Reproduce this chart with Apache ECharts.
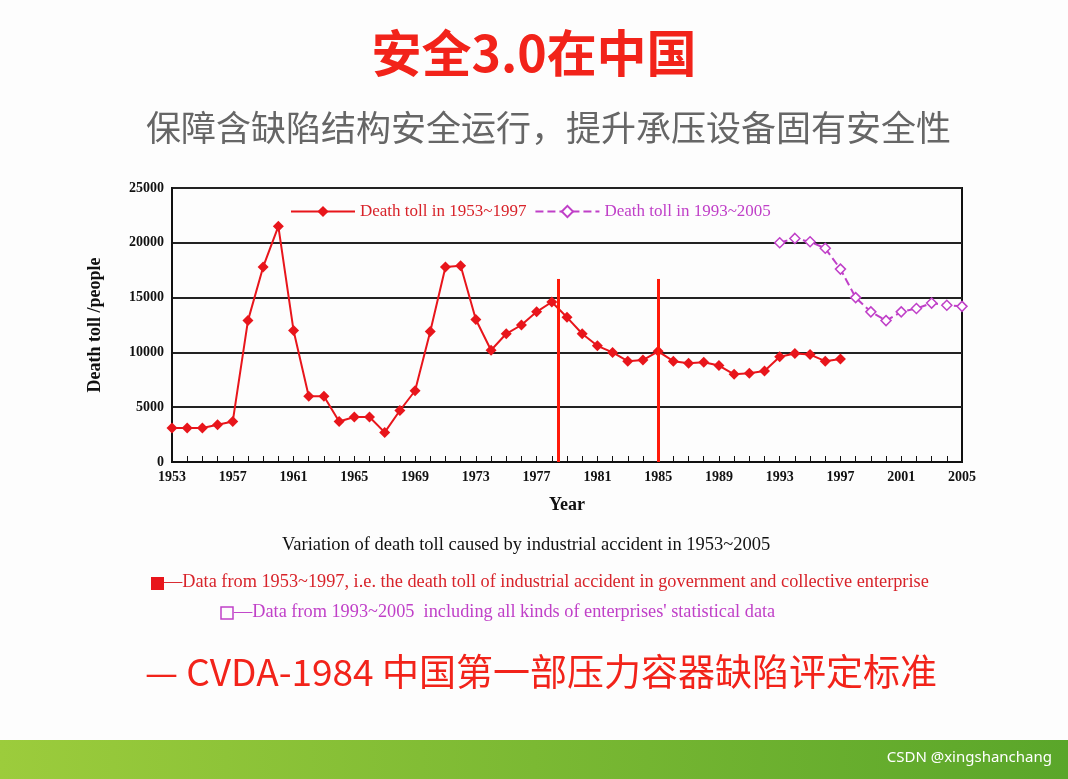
<!DOCTYPE html>
<html><head><meta charset="utf-8">
<script src="https://cdn.jsdelivr.net/npm/echarts@6/dist/echarts.min.js"></script>
<style>html,body{margin:0;padding:0;background:#fff}#c{width:1068px;height:779px}</style>
</head><body><div id="c"></div>
<script>
// 1953~1997 data
const years1 = [];
for (let y = 1953; y <= 1997; y++) years1.push(y);
const toll1 = [3100, 3100, 3100, 3400, 3700, 12900, 17800, 21500, 12000, 6000,
  6000, 3700, 4100, 4100, 2700, 4700, 6500, 11900, 17800, 17900,
  13000, 10200, 11700, 12500, 13700, 14600, 13200, 11700, 10600, 10000,
  9200, 9300, 10100, 9200, 9000, 9100, 8800, 8000, 8100, 8300,
  9600, 9900, 9800, 9200, 9400];
// 1993~2005 data
const years2 = [];
for (let y = 1993; y <= 2005; y++) years2.push(y);
const toll2 = [20000, 20400, 20100, 19500, 17600, 15000, 13700, 12900, 13700, 14000, 14500, 14300, 14200];
const markYears = [1978.4, 1985];

const chart = echarts.init(document.getElementById('c'));
const serif = 'Liberation Serif';

chart.setOption({
  backgroundColor: '#fdfdfd',
  animation: false,
  graphic: [
    { type: 'text', left: 'center', top: 28, style: { text: '安全3.0在中国', font: 'bold 50px "Noto Sans CJK SC"', fill: '#f2231a' } },
    { type: 'text', left: 146, top: 110, style: { text: '保障含缺陷结构安全运行，提升承压设备固有安全性', font: '35px "Noto Sans CJK SC"', fill: '#666' } },
    { type: 'text', left: 282, top: 536, style: { text: 'Variation of death toll caused by industrial accident in 1953~2005', font: '18.5px "Liberation Serif"', fill: '#111' } },
    { type: 'rect', shape: { x: 151, y: 577, width: 13, height: 13 }, style: { fill: '#e8151b' } },
    { type: 'text', left: 164, top: 573, style: { text: '—Data from 1953~1997, i.e. the death toll of industrial accident in government and collective enterprise', font: '18.3px "Liberation Serif"', fill: '#d8232a' } },
    { type: 'rect', shape: { x: 221, y: 607, width: 12, height: 12 }, style: { fill: 'none', stroke: '#c040c8', lineWidth: 1.5 } },
    { type: 'text', left: 234, top: 603, style: { text: '—Data from 1993~2005  including all kinds of enterprises\' statistical data', font: '18.3px "Liberation Serif"', fill: '#c040c8' } },
    { type: 'text', left: 145, top: 653, style: { text: '— CVDA-1984 中国第一部压力容器缺陷评定标准', font: '37px "Noto Sans CJK SC"', fill: '#f2231a' } },
    { type: 'rect', shape: { x: 0, y: 740, width: 1068, height: 39 }, style: { fill: new echarts.graphic.LinearGradient(0, 0, 1, 0, [{ offset: 0, color: '#9ccc3c' }, { offset: 1, color: '#5aa62a' }]) } },
    { type: 'text', right: 16, top: 750, style: { text: 'CSDN @xingshanchang', font: '15px "Noto Sans"', fill: '#fff' } }
  ],
  legend: {
    top: 198, left: 285, itemGap: 8, itemWidth: 64,
    textStyle: { fontFamily: serif, fontSize: 17 },
    data: [
      { name: 'Death toll in 1953~1997', textStyle: { color: '#d8232a' } },
      { name: 'Death toll in 1993~2005', textStyle: { color: '#c040c8' } }
    ]
  },
  grid: { left: 172, right: 106, top: 188, bottom: 317, show: true, borderColor: '#111', borderWidth: 2 },
  xAxis: {
    type: 'value', min: 1953, max: 2005, interval: 4,
    name: 'Year', nameLocation: 'middle', nameGap: 34,
    nameTextStyle: { fontFamily: serif, fontSize: 18, fontWeight: 'bold', color: '#111' },
    axisLine: { lineStyle: { color: '#111', width: 2 } },
    axisTick: { inside: true, length: 6, lineStyle: { color: '#111' } },
    minorTick: { show: true, splitNumber: 4, length: 6, lineStyle: { color: '#111' } },
    axisLabel: { fontFamily: serif, fontSize: 14, fontWeight: 'bold', color: '#111', formatter: v => String(v) },
    splitLine: { show: false }
  },
  yAxis: {
    type: 'value', min: 0, max: 25000, interval: 5000,
    name: 'Death toll /people', nameLocation: 'middle', nameGap: 68, nameRotate: 90,
    nameTextStyle: { fontFamily: serif, fontSize: 18, fontWeight: 'bold', color: '#111' },
    axisLine: { show: true, lineStyle: { color: '#111', width: 2 } },
    axisTick: { show: false },
    axisLabel: { fontFamily: serif, fontSize: 14, fontWeight: 'bold', color: '#111', formatter: v => String(v) },
    splitLine: { lineStyle: { color: '#222', width: 2 } }
  },
  series: [
    {
      name: 'Death toll in 1953~1997', type: 'line',
      data: years1.map((y, i) => [y, toll1[i]]),
      symbol: 'diamond', symbolSize: 11,
      lineStyle: { color: '#e8151b', width: 2 },
      itemStyle: { color: '#e8151b' },
      markLine: {
        silent: true, symbol: 'none', label: { show: false },
        lineStyle: { color: '#ff1a0a', width: 3, type: 'solid', opacity: 1 },
        data: markYears.map(x => [{ coord: [x, 16700] }, { coord: [x, 0] }])
      }
    },
    {
      name: 'Death toll in 1993~2005', type: 'line',
      data: years2.map((y, i) => [y, toll2[i]]),
      symbol: 'diamond', symbolSize: 10, showAllSymbol: true,
      lineStyle: { color: '#c040c8', width: 2, type: 'dashed' },
      itemStyle: { color: '#fff', borderColor: '#c040c8', borderWidth: 1.5 }
    }
  ]
});
</script></body></html>
